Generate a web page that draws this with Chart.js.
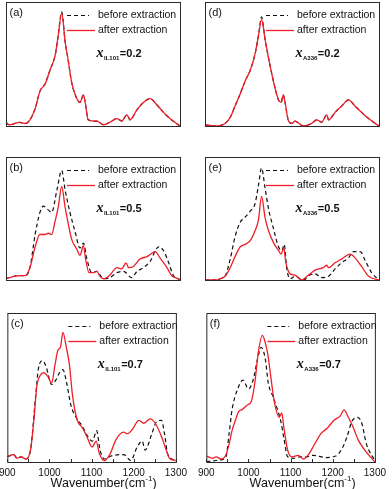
<!DOCTYPE html>
<html>
<head>
<meta charset="utf-8">
<script src="https://cdn.jsdelivr.net/npm/chart.js@4.4.1/dist/chart.umd.min.js"></script>
<style>
  html, body { margin: 0; padding: 0; background: #fff; }
  body { width: 392px; height: 489px; position: relative; overflow: hidden; }
  canvas { position: absolute; }
</style>
</head>
<body>
<script>
// IR spectra before / after extraction, intensity normalised to the panel height

const xTickLabels = [900, 1000, 1100, 1200, 1300];
const xTickMarks = [900, 950, 1000, 1050, 1100, 1150, 1200, 1250, 1300];

// (a) x_IL101 = 0.2
const wnA = [900, 907, 932, 944, 955, 967, 978, 990, 1001, 1013, 1020, 1028, 1036, 1043, 1051, 1063, 1070, 1078, 1082, 1089, 1101, 1109, 1124, 1139, 1155, 1166, 1178, 1185, 1201, 1216, 1231, 1247, 1262, 1277, 1296, 1300];
const beforeA = [0.03, 0.01, 0.03, 0.02, 0.05, 0.14, 0.28, 0.34, 0.45, 0.57, 0.73, 0.92, 0.68, 0.53, 0.35, 0.22, 0.19, 0.25, 0.19, 0.05, 0.04, 0.04, 0.01, 0.03, 0.06, 0.04, 0.09, 0.05, 0.13, 0.19, 0.22, 0.17, 0.11, 0.06, 0.01, 0.0];
const afterA = [0.03, 0.01, 0.03, 0.02, 0.05, 0.14, 0.28, 0.34, 0.45, 0.57, 0.73, 0.91, 0.68, 0.53, 0.35, 0.22, 0.19, 0.25, 0.19, 0.05, 0.04, 0.04, 0.01, 0.03, 0.06, 0.04, 0.09, 0.05, 0.13, 0.19, 0.22, 0.17, 0.11, 0.06, 0.01, 0.0];

// (b) x_IL101 = 0.5
const wnBBefore = [900, 908, 932, 944, 955, 967, 978, 986, 997, 1005, 1017, 1028, 1036, 1047, 1059, 1070, 1078, 1086, 1097, 1109, 1124, 1139, 1155, 1170, 1189, 1201, 1216, 1231, 1251, 1262, 1274, 1285, 1296, 1300];
const beforeB = [0.01, 0.02, 0.035, 0.035, 0.10, 0.37, 0.55, 0.60, 0.57, 0.55, 0.73, 0.89, 0.73, 0.55, 0.39, 0.26, 0.30, 0.17, 0.06, 0.07, 0.01, 0.02, 0.06, 0.07, 0.02, 0.07, 0.10, 0.15, 0.27, 0.24, 0.14, 0.035, 0.01, 0.0];
const wnBAfter = [900, 908, 932, 944, 955, 967, 978, 990, 997, 1005, 1013, 1020, 1028, 1036, 1043, 1051, 1063, 1070, 1078, 1083, 1091, 1101, 1109, 1116, 1125, 1139, 1155, 1166, 1176, 1182, 1193, 1208, 1224, 1243, 1254, 1270, 1281, 1296, 1300];
const afterB = [0.01, 0.02, 0.035, 0.035, 0.10, 0.27, 0.37, 0.37, 0.38, 0.37, 0.48, 0.59, 0.76, 0.59, 0.46, 0.33, 0.25, 0.20, 0.28, 0.17, 0.06, 0.06, 0.07, 0.03, 0.01, 0.04, 0.10, 0.09, 0.14, 0.10, 0.11, 0.17, 0.19, 0.23, 0.18, 0.10, 0.035, 0.01, 0.0];

// (c) x_IL101 = 0.7
const wnCBefore = [900, 915, 923, 932, 944, 955, 967, 974, 984, 993, 1005, 1015, 1024, 1032, 1040, 1051, 1063, 1078, 1089, 1102, 1112, 1120, 1131, 1146, 1176, 1193, 1208, 1220, 1227, 1243, 1254, 1266, 1273, 1281, 1300];
const beforeC = [0.035, 0.05, 0.025, 0.035, 0.02, 0.08, 0.44, 0.63, 0.68, 0.63, 0.52, 0.55, 0.60, 0.62, 0.54, 0.38, 0.30, 0.24, 0.18, 0.14, 0.21, 0.08, 0.02, 0.04, 0.05, 0.01, 0.10, 0.14, 0.08, 0.19, 0.27, 0.28, 0.19, 0.05, 0.01];
const wnCAfter = [900, 915, 923, 932, 944, 955, 963, 970, 978, 986, 997, 1005, 1013, 1020, 1026, 1032, 1040, 1047, 1055, 1066, 1078, 1089, 1101, 1111, 1118, 1130, 1143, 1158, 1176, 1185, 1197, 1212, 1224, 1239, 1251, 1266, 1277, 1285, 1300];
const afterC = [0.035, 0.05, 0.025, 0.035, 0.02, 0.08, 0.28, 0.51, 0.58, 0.60, 0.57, 0.53, 0.65, 0.75, 0.77, 0.87, 0.77, 0.66, 0.44, 0.28, 0.23, 0.17, 0.10, 0.14, 0.06, 0.01, 0.05, 0.15, 0.20, 0.19, 0.22, 0.28, 0.26, 0.29, 0.26, 0.17, 0.08, 0.025, 0.01];

// (d) x_A336 = 0.2
const wnD = [900, 923, 946, 958, 969, 981, 992, 1004, 1015, 1023, 1030, 1038, 1046, 1058, 1069, 1075, 1080, 1084, 1092, 1100, 1107, 1126, 1145, 1157, 1168, 1180, 1184, 1199, 1214, 1230, 1245, 1260, 1276, 1300];
const beforeD = [0.01, 0.0, 0.02, 0.07, 0.16, 0.26, 0.36, 0.45, 0.58, 0.73, 0.88, 0.70, 0.55, 0.35, 0.21, 0.19, 0.25, 0.19, 0.04, 0.02, 0.04, 0.0, 0.02, 0.05, 0.03, 0.09, 0.05, 0.11, 0.16, 0.21, 0.16, 0.11, 0.06, 0.0];
const afterD = [0.01, 0.0, 0.02, 0.07, 0.16, 0.26, 0.36, 0.45, 0.58, 0.73, 0.86, 0.70, 0.55, 0.35, 0.21, 0.19, 0.25, 0.19, 0.04, 0.02, 0.04, 0.0, 0.02, 0.05, 0.03, 0.09, 0.05, 0.11, 0.16, 0.21, 0.16, 0.11, 0.06, 0.0];

// (e) x_A336 = 0.5
const wnEBefore = [900, 923, 935, 946, 958, 969, 981, 992, 1004, 1015, 1023, 1030, 1038, 1046, 1058, 1069, 1077, 1082, 1088, 1096, 1107, 1126, 1141, 1153, 1168, 1184, 1199, 1214, 1230, 1241, 1257, 1268, 1283, 1300];
const beforeE = [0.0, 0.0, 0.01, 0.03, 0.17, 0.35, 0.47, 0.51, 0.56, 0.62, 0.77, 0.91, 0.75, 0.58, 0.41, 0.27, 0.24, 0.29, 0.09, 0.01, 0.03, 0.0, 0.04, 0.05, 0.02, 0.03, 0.09, 0.14, 0.18, 0.23, 0.23, 0.16, 0.06, 0.0];
const wnEAfter = [900, 923, 935, 946, 958, 969, 981, 992, 1004, 1015, 1023, 1030, 1038, 1046, 1058, 1069, 1075, 1081, 1086, 1096, 1107, 1122, 1138, 1153, 1172, 1180, 1184, 1199, 1214, 1234, 1245, 1260, 1276, 1300];
const afterE = [0.0, 0.0, 0.01, 0.03, 0.10, 0.19, 0.27, 0.29, 0.32, 0.40, 0.49, 0.68, 0.51, 0.40, 0.30, 0.24, 0.21, 0.26, 0.14, 0.05, 0.04, 0.0, 0.04, 0.08, 0.10, 0.12, 0.10, 0.14, 0.17, 0.21, 0.18, 0.11, 0.03, 0.0];

// (f) x_A336 = 0.7
const wnFBefore = [900, 923, 946, 954, 961, 973, 987, 1000, 1011, 1023, 1030, 1040, 1047, 1058, 1069, 1077, 1084, 1093, 1107, 1122, 1138, 1153, 1184, 1207, 1222, 1234, 1245, 1259, 1269, 1280, 1300];
const beforeF = [0.0, 0.01, 0.03, 0.19, 0.35, 0.48, 0.55, 0.49, 0.55, 0.71, 0.77, 0.69, 0.53, 0.44, 0.35, 0.27, 0.16, 0.035, 0.025, 0.035, 0.035, 0.045, 0.03, 0.04, 0.09, 0.17, 0.27, 0.30, 0.26, 0.12, 0.01];
const wnFAfter = [900, 915, 923, 935, 946, 954, 961, 969, 977, 984, 996, 1007, 1015, 1023, 1033, 1040, 1046, 1054, 1061, 1073, 1079, 1084, 1093, 1103, 1118, 1130, 1141, 1157, 1172, 1188, 1203, 1218, 1227, 1237, 1249, 1260, 1276, 1300];
const afterF = [0.04, 0.025, 0.035, 0.02, 0.045, 0.12, 0.21, 0.28, 0.34, 0.35, 0.38, 0.41, 0.53, 0.73, 0.85, 0.80, 0.72, 0.55, 0.41, 0.30, 0.33, 0.23, 0.08, 0.035, 0.045, 0.02, 0.045, 0.12, 0.19, 0.23, 0.28, 0.31, 0.35, 0.30, 0.23, 0.15, 0.08, 0.0];

const FONT = '"Liberation Sans", Arial, Helvetica, sans-serif';
const RED = 'rgb(240, 30, 40)';
const BLACK = '#111';

// panel frames on the page (plot area, px)
const colLeft = [6, 205];
const rowTop = [2, 157, 313];
const rowHeight = [151, 150, 149];
const AREA_W = 174;
const PAD_X = 12;
const PAD_Y = 1;
const AXIS_H = 27;

const panels = [
  { col: 0, row: 0, tag: '(a)', sub: 'IL101', frac: '0.2', before: [wnA, beforeA], after: [wnA, afterA] },
  { col: 0, row: 1, tag: '(b)', sub: 'IL101', frac: '0.5', before: [wnBBefore, beforeB], after: [wnBAfter, afterB] },
  { col: 0, row: 2, tag: '(c)', sub: 'IL101', frac: '0.7', before: [wnCBefore, beforeC], after: [wnCAfter, afterC] },
  { col: 1, row: 0, tag: '(d)', sub: 'A336', frac: '0.2', before: [wnD, beforeD], after: [wnD, afterD] },
  { col: 1, row: 1, tag: '(e)', sub: 'A336', frac: '0.5', before: [wnEBefore, beforeE], after: [wnEAfter, afterE] },
  { col: 1, row: 2, tag: '(f)', sub: 'A336', frac: '0.7', before: [wnFBefore, beforeF], after: [wnFAfter, afterF] }
];

const toPoints = ([xs, ys]) => xs.map((x, i) => ({ x: x, y: ys[i] }));

// frame, legend, panel tag, composition label, inward ticks and axis title
const panelDecor = {
  id: 'panelDecor',
  afterDraw(chart, args, opts) {
    const ctx = chart.ctx;
    const a = chart.chartArea;
    ctx.save();
    ctx.setLineDash([]);
    ctx.strokeStyle = '#2a2a2a';
    ctx.lineWidth = 1;
    ctx.strokeRect(a.left + 0.5, a.top + 0.5, a.right - a.left, a.bottom - a.top);

    // inward tick marks on the bottom row
    if (opts.bottom) {
      const xs = chart.scales.x;
      ctx.beginPath();
      xTickMarks.forEach(v => {
        const px = Math.round(xs.getPixelForValue(v)) + 0.5;
        ctx.moveTo(px, a.bottom);
        ctx.lineTo(px, a.bottom - 3);
      });
      ctx.stroke();
    }

    ctx.fillStyle = '#111';
    ctx.textBaseline = 'middle';
    ctx.font = '11px ' + FONT;
    ctx.fillText(opts.tag, a.left + 3.5, a.top + 10.5);

    // legend
    const sampleX = a.left + 61;
    chart.data.datasets.forEach((ds, i) => {
      const y = Math.round(a.top + 13 + i * 15) + 0.5;
      ctx.strokeStyle = ds.borderColor;
      ctx.lineWidth = ds.borderWidth;
      ctx.setLineDash(ds.borderDash || []);
      ctx.beginPath();
      ctx.moveTo(sampleX, y);
      ctx.lineTo(sampleX + (ds.borderDash ? 22 : 28), y);
      ctx.stroke();
      ctx.setLineDash([]);
      ctx.font = '10.5px ' + FONT;
      ctx.fillStyle = '#111';
      ctx.fillText(ds.label, a.left + 92, y);
    });

    // x_sub = value
    let x = a.left + 90.5;
    const base = a.top + 55;
    ctx.textBaseline = 'alphabetic';
    ctx.font = 'italic bold 14px "Liberation Serif", "Times New Roman", serif';
    ctx.fillText('x', x, base);
    x += ctx.measureText('x').width + 0.5;
    ctx.font = 'bold 6px ' + FONT;
    ctx.fillText(opts.sub, x, base + 3);
    x += ctx.measureText(opts.sub).width + 0.5;
    ctx.font = 'bold 11px ' + FONT;
    ctx.fillText('=' + opts.frac, x, base);

    if (opts.bottom) {
      const cx = (a.left + a.right) / 2 + 12;
      const ty = a.bottom + 25;
      const big = '12.5px ' + FONT;
      const small = '8px ' + FONT;
      ctx.font = big;
      const w1 = ctx.measureText('Wavenumber(cm').width;
      ctx.font = small;
      const w2 = ctx.measureText('-1').width;
      ctx.font = big;
      const w3 = ctx.measureText(')').width;
      let tx = cx - (w1 + w2 + w3) / 2;
      ctx.fillText('Wavenumber(cm', tx, ty);
      tx += w1;
      ctx.font = small;
      ctx.fillText('-1', tx, ty - 6);
      tx += w2;
      ctx.font = big;
      ctx.fillText(')', tx, ty);
    }
    ctx.restore();
  }
};

panels.forEach(p => {
  const bottom = p.row === 2;
  const canvas = document.createElement('canvas');
  const w = AREA_W + 2 * PAD_X;
  const h = rowHeight[p.row] + 2 * PAD_Y + (bottom ? AXIS_H - PAD_Y : 0);
  canvas.width = w;
  canvas.height = h;
  canvas.style.width = w + 'px';
  canvas.style.height = h + 'px';
  canvas.style.left = (colLeft[p.col] - PAD_X) + 'px';
  canvas.style.top = (rowTop[p.row] - PAD_Y) + 'px';
  document.body.appendChild(canvas);

  new Chart(canvas, {
    type: 'line',
    data: {
      datasets: [
        {
          label: 'before extraction',
          data: toPoints(p.before),
          borderColor: BLACK,
          borderWidth: 1.2,
          borderDash: [4, 3],
          pointRadius: 0,
          cubicInterpolationMode: 'monotone',
          order: 2
        },
        {
          label: 'after extraction',
          data: toPoints(p.after),
          borderColor: RED,
          borderWidth: 1.3,
          pointRadius: 0,
          cubicInterpolationMode: 'monotone',
          order: 1
        }
      ]
    },
    plugins: [panelDecor],
    options: {
      responsive: false,
      animation: false,
      events: [],
      devicePixelRatio: 1,
      layout: {
        padding: { left: PAD_X, right: PAD_X, top: PAD_Y, bottom: bottom ? 0 : PAD_Y }
      },
      plugins: {
        legend: { display: false },
        tooltip: { enabled: false },
        panelDecor: { tag: p.tag, sub: p.sub, frac: p.frac, bottom: bottom }
      },
      scales: {
        x: {
          type: 'linear',
          min: 900,
          max: 1300,
          display: bottom,
          afterBuildTicks: scale => { scale.ticks = xTickLabels.map(v => ({ value: v })); },
          afterFit: scale => { scale.height = AXIS_H; },
          grid: { display: false, drawTicks: false },
          border: { display: false },
          ticks: {
            autoSkip: false,
            maxRotation: 0,
            padding: 5,
            color: '#111',
            font: { family: FONT, size: 10 },
            callback: value => String(value)
          }
        },
        y: {
          display: false,
          min: 0,
          max: 1
        }
      }
    }
  });
});
</script>
</body>
</html>
